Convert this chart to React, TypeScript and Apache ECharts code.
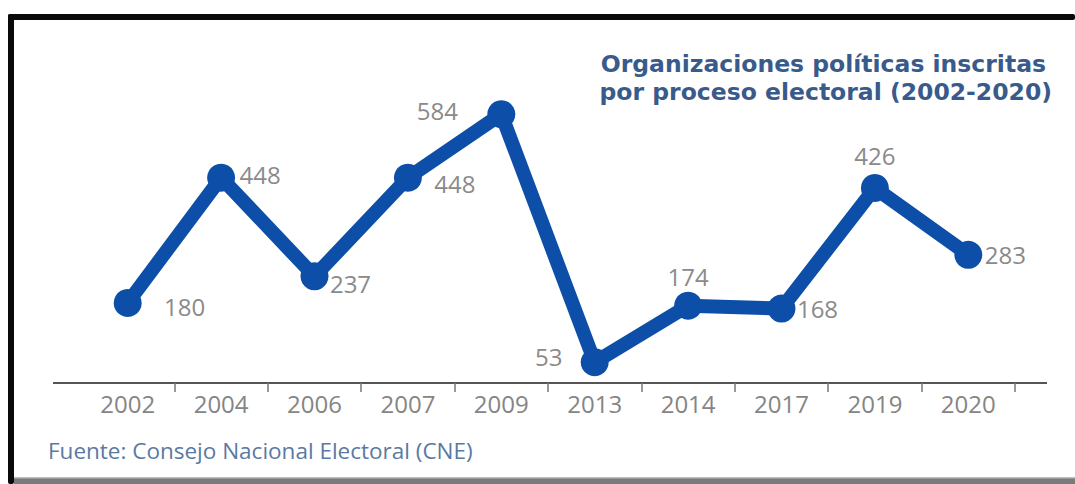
import React, { useEffect, useRef } from "react";
import * as echarts from "echarts";

const categories = ["2002", "2004", "2006", "2007", "2009", "2013", "2014", "2017", "2019", "2020"];
const values = [180, 448, 237, 448, 584, 53, 174, 168, 426, 283];
const titleLines = ["Organizaciones políticas inscritas", "por proceso electoral (2002-2020)"];
const sourceText = "Fuente: Consejo Nacional Electoral (CNE)";

// label offsets (style only)
const labelOffsets = [
  [57, 4], [39, -3], [36, 7], [47, 6], [-64, -4],
  [-46, -6], [0, -29], [36, 0], [0, -32], [37, 0],
];

const LINE_COLOR = "#0d4fa8";
const TITLE_FONT = {
  fontFamily: "DejaVu Sans",
  fontWeight: "bold",
  fontSize: 23.5,
  lineHeight: 28,
  fill: "#385b8c",
};

export default function App() {
  const ref = useRef<HTMLDivElement>(null);
  useEffect(() => {
    if (!ref.current) return;
    const chart = echarts.init(ref.current, null, { renderer: "svg" });
    chart.setOption({
      animation: false,
      backgroundColor: "#ffffff",
      grid: { left: 81, right: 60, top: 88, bottom: 97 },
      xAxis: {
        type: "category",
        data: categories,
        boundaryGap: true,
        offset: -4,
        axisLine: { show: false },
        axisTick: {
          show: true,
          length: 9,
          interval: (i: number) => i > 0,
          lineStyle: { color: "#777", width: 1.5 },
        },
        axisLabel: {
          interval: 0,
          margin: 8,
          fontSize: 24,
          color: "#858585",
          fontFamily: "Open Sans",
        },
      },
      yAxis: { type: "value", min: 0, max: 640, show: false, splitLine: { show: false } },
      graphic: [
        { type: "rect", shape: { x: 8, y: 14, width: 1067, height: 6, r: 2 }, style: { fill: "#0a0a0a" } },
        { type: "rect", shape: { x: 8, y: 14, width: 6, height: 470, r: 2 }, style: { fill: "#0a0a0a" } },
        { type: "rect", shape: { x: 14, y: 478, width: 1061, height: 6 }, style: { fill: "#7a7a7a" } },
        { type: "rect", shape: { x: 14, y: 477, width: 1061, height: 1.5 }, style: { fill: "#bdbdbd" } },
        {
          type: "line",
          shape: { x1: 53, y1: 383, x2: 1047, y2: 383 },
          style: { stroke: "#555", lineWidth: 2 },
        },
        {
          type: "text",
          x: 1046,
          y: 50,
          style: { ...TITLE_FONT, text: titleLines[0], align: "right", verticalAlign: "top" },
        },
        {
          type: "text",
          x: 1052,
          y: 78,
          style: { ...TITLE_FONT, text: titleLines[1], align: "right", verticalAlign: "top" },
        },
        {
          type: "text",
          x: 48,
          y: 439,
          style: {
            text: sourceText,
            align: "left",
            verticalAlign: "top",
            fontFamily: "Open Sans",
            fontSize: 22.5,
            fill: "#5a79a3",
          },
        },
      ],
      series: [
        {
          type: "line",
          data: values.map((v, i) => ({ value: v, label: { offset: labelOffsets[i] } })),
          symbol: "circle",
          symbolSize: 28,
          lineStyle: { color: LINE_COLOR, width: 14, cap: "round", join: "round" },
          itemStyle: { color: LINE_COLOR },
          label: {
            show: true,
            position: "inside",
            fontSize: 24,
            color: "#8a8a8a",
            fontFamily: "Open Sans",
          },
          z: 5,
        },
      ],
    });
    return () => chart.dispose();
  }, []);
  return (
    <div
      ref={ref}
      style={{ position: "fixed", left: 0, top: 0, width: 1075, height: 484, background: "#fff" }}
    />
  );
}
